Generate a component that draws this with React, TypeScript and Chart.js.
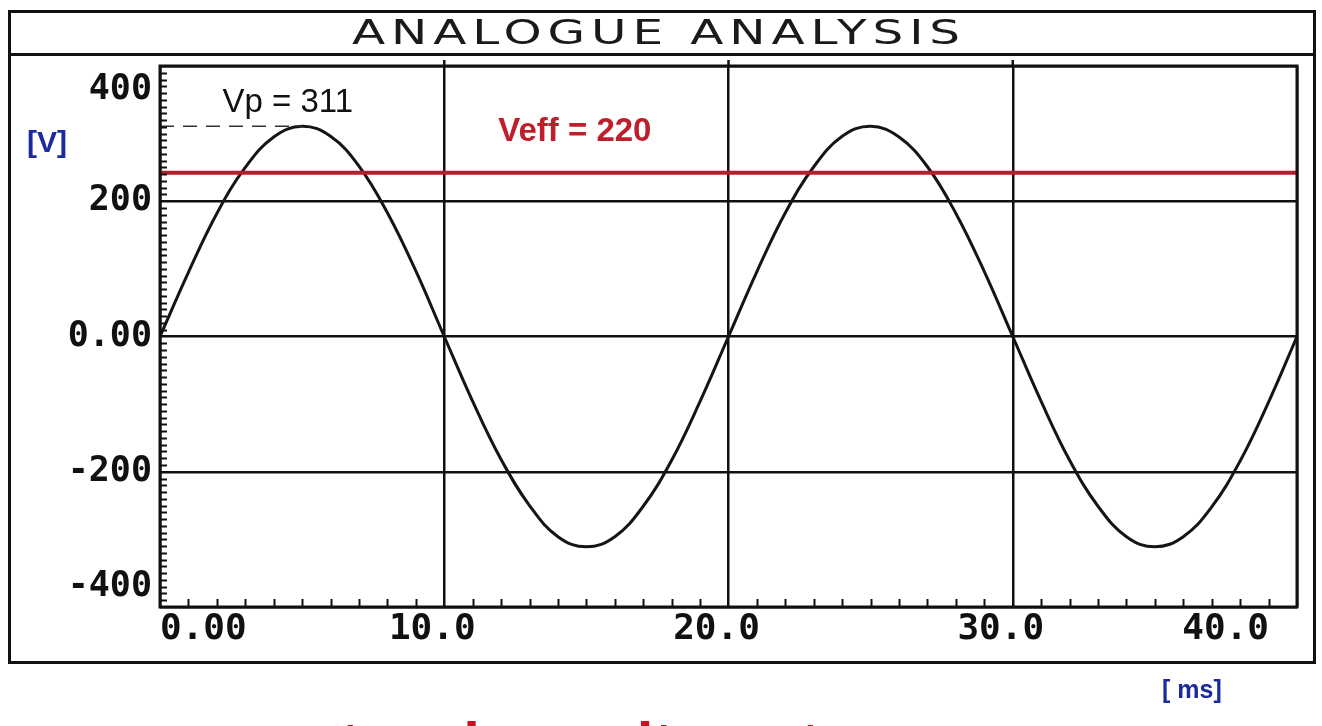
import React, { useEffect, useRef } from "react";
import { Chart, registerables } from "chart.js";

Chart.register(...registerables);

// ---- data ----
const timeMs = [
  0, 1, 2, 3, 4, 5, 6, 7, 8, 9, 10, 11, 12, 13, 14, 15, 16, 17, 18, 19, 20,
  21, 22, 23, 24, 25, 26, 27, 28, 29, 30, 31, 32, 33, 34, 35, 36, 37, 38, 39, 40,
];
const voltage = [
  0, 95, 182, 250, 295, 311, 296, 252, 183, 97, 0, -96, -182, -250, -296, -311,
  -296, -251, -183, -96, 0, 96, 183, 251, 296, 311, 295, 251, 182, 96, 0, -96,
  -183, -251, -296, -311, -296, -252, -184, -97, 0,
];
const veffLevel = 242; // drawn red line
const vpLevel = 311; // peak (dashed marker)
const vpMarkerEndMs = 5;

const xTickValues = [0, 10, 20, 30, 40];
const xTickLabels = ["0.00", "10.0", "20.0", "30.0", "40.0"];
const yTickValues = [-400, -200, 0, 200, 400];
const yTickLabels = ["-400", "-200", "0.00", "200", "400"];
const xMinorStep = 1;
const yMinorStep = 10;

const titleText = "ANALOGUE ANALYSIS";
const vpText = "Vp = 311";
const veffText = "Veff = 220";
const yUnitText = "[V]";
const xUnitText = "[ ms]";
const captionText = "tensione alternata";

export default function App() {
  const ref = useRef<HTMLCanvasElement>(null);

  useEffect(() => {
    const frame = {
      id: "frame",
      beforeDraw(chart: any) {
        const ctx = chart.ctx as CanvasRenderingContext2D;
        ctx.save();
        ctx.fillStyle = "#ffffff";
        ctx.fillRect(0, 0, chart.width, chart.height);
        // outer box
        ctx.strokeStyle = "#111";
        ctx.lineWidth = 3;
        ctx.strokeRect(9.5, 11.5, 1305, 651);
        // title separator
        ctx.beginPath();
        ctx.moveTo(9, 54.5);
        ctx.lineTo(1315, 54.5);
        ctx.stroke();
        // title
        ctx.fillStyle = "#1a1a1a";
        ctx.font = '33px "DejaVu Sans"';
        (ctx as any).letterSpacing = "4px";
        ctx.textAlign = "center";
        ctx.textBaseline = "middle";
        ctx.translate(659, 35);
        ctx.scale(1.47, 1);
        ctx.fillText(titleText, 0, 0);
        ctx.restore();
      },
      afterDraw(chart: any) {
        const ctx = chart.ctx as CanvasRenderingContext2D;
        const { left, right, top, bottom } = chart.chartArea;
        const xs = chart.scales.x;
        const ys = chart.scales.y;
        ctx.save();
        // vertical grid extensions above the plot
        ctx.strokeStyle = "#111";
        ctx.lineWidth = 2.5;
        xTickValues.slice(1, -1).forEach((v) => {
          const px = xs.getPixelForValue(v);
          ctx.beginPath();
          ctx.moveTo(px, top - 6);
          ctx.lineTo(px, top);
          ctx.stroke();
        });
        // plot border
        ctx.lineWidth = 3;
        ctx.strokeRect(left, top, right - left, bottom - top);
        // minor ticks
        ctx.lineWidth = 2;
        for (let v = xs.min + xMinorStep; v < xs.max; v += xMinorStep) {
          if (xTickValues.includes(v)) continue;
          const px = Math.round(xs.getPixelForValue(v)) + 0.5;
          ctx.beginPath();
          ctx.moveTo(px, bottom);
          ctx.lineTo(px, bottom - 8);
          ctx.stroke();
        }
        for (let v = ys.min + yMinorStep; v < ys.max; v += yMinorStep) {
          if (yTickValues.includes(v)) continue;
          const py = Math.round(ys.getPixelForValue(v)) + 0.5;
          ctx.beginPath();
          ctx.moveTo(left, py);
          ctx.lineTo(left + 7, py);
          ctx.stroke();
        }
        // y tick labels
        ctx.fillStyle = "#111";
        ctx.font = 'bold 35px "DejaVu Sans Mono"';
        ctx.textAlign = "right";
        ctx.textBaseline = "middle";
        yTickValues.forEach((v, i) => {
          let py = ys.getPixelForValue(v);
          py = Math.min(Math.max(py, top + 24), bottom - 20);
          ctx.fillText(yTickLabels[i], left - 8, py);
        });
        // x tick labels
        ctx.font = 'bold 36px "DejaVu Sans Mono"';
        xTickValues.forEach((v, i) => {
          const px = xs.getPixelForValue(v);
          if (i === 0) {
            ctx.textAlign = "left";
            ctx.fillText(xTickLabels[i], px, bottom + 23);
          } else if (i === xTickValues.length - 1) {
            ctx.textAlign = "right";
            ctx.fillText(xTickLabels[i], px - 28, bottom + 23);
          } else {
            ctx.textAlign = "center";
            ctx.fillText(xTickLabels[i], px - 12, bottom + 23);
          }
        });
        // annotations
        ctx.textAlign = "left";
        ctx.fillStyle = "#111";
        ctx.font = '33px "Liberation Sans", Arial, sans-serif';
        ctx.fillText(vpText, xs.getPixelForValue(2.2), ys.getPixelForValue(346));
        ctx.fillStyle = "#bf1f2b";
        ctx.font = 'bold 33px "Liberation Sans", Arial, sans-serif';
        ctx.fillText(veffText, xs.getPixelForValue(11.9), ys.getPixelForValue(303));
        // unit labels
        ctx.fillStyle = "#1c2a9e";
        ctx.font = 'bold 30px "Liberation Sans Narrow", "Liberation Sans", Arial, sans-serif';
        ctx.fillText(yUnitText, 27, 144);
        ctx.font = 'bold 25px "Liberation Sans Narrow", "Liberation Sans", Arial, sans-serif';
        ctx.fillText(xUnitText, 1162, 691);
        // caption (cut by the bottom of the picture)
        ctx.fillStyle = "#d0101e";
        ctx.font = 'bold 60px "Liberation Sans", Arial, sans-serif';
        ctx.textBaseline = "alphabetic";
        ctx.fillText(captionText, 340, 764);
        ctx.restore();
      },
    };

    const chart = new Chart(ref.current!, {
      type: "line",
      data: {
        datasets: [
          {
            label: "Veff",
            data: [
              { x: timeMs[0], y: veffLevel },
              { x: timeMs[timeMs.length - 1], y: veffLevel },
            ],
            borderColor: "#b3202c",
            borderWidth: 4,
            pointRadius: 0,
          },
          {
            label: "Vp",
            data: [
              { x: timeMs[0], y: vpLevel },
              { x: vpMarkerEndMs, y: vpLevel },
            ],
            borderColor: "#333",
            borderWidth: 1.5,
            borderDash: [14, 9],
            pointRadius: 0,
          },
          {
            label: "u(t)",
            data: timeMs.map((t, i) => ({ x: t, y: voltage[i] })),
            borderColor: "#151515",
            borderWidth: 3,
            pointRadius: 0,
            tension: 0.4,
          },
        ],
      },
      options: {
        responsive: false,
        animation: false,
        events: [],
        layout: { padding: { left: 0, top: 66, right: 25, bottom: 69 } },
        plugins: {
          legend: { display: false },
          tooltip: { enabled: false },
          title: { display: false },
        },
        scales: {
          x: {
            type: "linear",
            min: 0,
            max: 40,
            afterBuildTicks: (s: any) => {
              s.ticks = xTickValues.map((v) => ({ value: v }));
            },
            afterFit: (s: any) => {
              s.height = 50;
            },
            ticks: { display: false },
            grid: { color: "#111", lineWidth: 2.5, drawTicks: false },
            border: { display: false },
          },
          y: {
            type: "linear",
            min: -400,
            max: 400,
            afterBuildTicks: (s: any) => {
              s.ticks = yTickValues.map((v) => ({ value: v }));
            },
            afterFit: (s: any) => {
              s.width = 160;
            },
            ticks: { display: false },
            grid: { color: "#111", lineWidth: 2.5, drawTicks: false },
            border: { display: false },
          },
        },
      } as any,
      plugins: [frame],
    });
    return () => chart.destroy();
  }, []);

  return (
    <div
      style={{
        position: "fixed",
        left: 0,
        top: 0,
        width: 1322,
        height: 726,
        background: "#fff",
        overflow: "hidden",
      }}
    >
      <canvas ref={ref} width={1322} height={726} style={{ display: "block" }} />
    </div>
  );
}
